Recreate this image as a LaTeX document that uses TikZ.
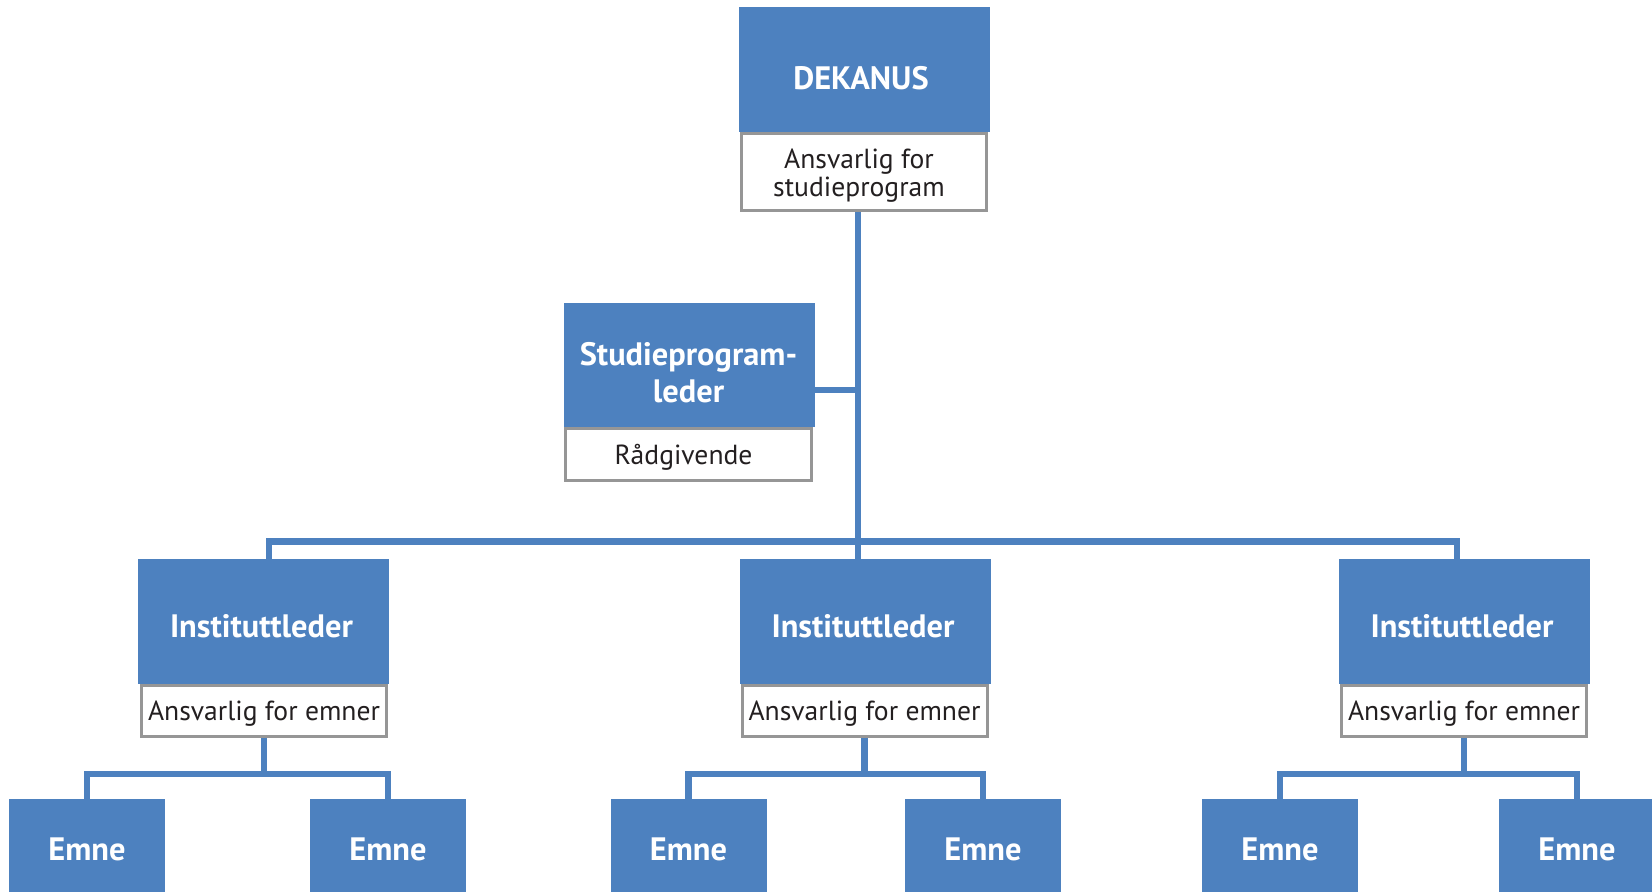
\documentclass[tikz,border=0pt]{standalone}
\usepackage{fontspec}
\setmainfont{PT Sans}
\usetikzlibrary{calc}
\definecolor{uiblue}{RGB}{77,129,191}
\definecolor{boxgray}{RGB}{150,150,150}
\definecolor{txtdark}{RGB}{35,31,32}
% #1 = lower by, #2 = shift left by, #3 = text
\newcommand\dropt[3]{\raisebox{-#1}[\height][\depth]{\kern-#2\begin{tabular}{@{}c@{}}#3\end{tabular}\kern#2}}
\begin{document}
\begin{tikzpicture}[x=0.5pt,y=-0.5pt,
  head/.style={fill=uiblue, draw=none, text=white, font=\fontsize{16.2}{18.5}\selectfont\bfseries,
    minimum width=125.5pt, minimum height=62.5pt, inner sep=0pt, align=center},
  sub/.style={fill=white, draw=boxgray, line width=1.5pt, text=txtdark,
    font=\fontsize{13.8}{14.3}\selectfont, minimum width=122.5pt, inner sep=0pt, align=center},
  leaf/.style={fill=uiblue, draw=none, text=white, font=\fontsize{16.2}{18.5}\selectfont\bfseries,
    minimum width=78pt, minimum height=50pt, inner sep=0pt},
  conn/.style={draw=uiblue, line width=3.4pt, line join=miter}]
\useasboundingbox (0,0) rectangle (1652,892);
\clip (0,0) rectangle (1652,892);

% top
\node[head] (dek) at (864,69.5) {\dropt{6.1pt}{1.5pt}{DEKANUS}};
\node[sub, minimum height=38.5pt] (dekw) at (864,172) {\dropt{2.3pt}{2.5pt}{Ansvarlig for\\studieprogram}};

% studieprogramleder
\node[head, minimum height=62pt] (stud) at (689.5,365) {\dropt{5.6pt}{0.5pt}{Studieprogram-\\leder}};
\node[sub, minimum width=123pt, minimum height=26pt] (studw) at (688.5,454.5) {\dropt{2pt}{2.5pt}{Rådgivende}};

% instituttledere
\node[head] (i1) at (263.5,621.5) {\dropt{4.1pt}{1pt}{Instituttleder}};
\node[head] (i2) at (865,621.5) {\dropt{4.1pt}{1pt}{Instituttleder}};
\node[head] (i3) at (1464,621.5) {\dropt{4.1pt}{1pt}{Instituttleder}};
\node[sub, minimum height=25.5pt] (i1w) at (264,711) {\dropt{2pt}{0pt}{Ansvarlig for emner}};
\node[sub, minimum height=25.5pt] (i2w) at (864.5,711) {\dropt{2pt}{0pt}{Ansvarlig for emner}};
\node[sub, minimum height=25.5pt] (i3w) at (1464,711) {\dropt{2pt}{0pt}{Ansvarlig for emner}};

% emner
\node[leaf] (e1) at (87,849) {Emne};
\node[leaf] (e2) at (388,849) {Emne};
\node[leaf] (e3) at (688.5,849) {Emne};
\node[leaf] (e4) at (983,849) {Emne};
\node[leaf] (e5) at (1280,849) {Emne};
\node[leaf] (e6) at (1577,849) {Emne};

% connectors
\coordinate (sp) at ([xshift=-3pt]dekw.south);
\draw[conn] (sp) -- (sp |- i2.north);
\draw[conn] ([yshift=-12.5pt]stud.east) -- ([yshift=-12.5pt]stud.east -| sp);
\draw[conn] ([xshift=2.75pt]i1.north) -- ++(0,-17) -| ([xshift=-3.5pt]i3.north);

\draw[conn] (i1w.south) -- ++(0,36);
\draw[conn] (e1.north) |- ([yshift=-18pt]i1w.south) -| (e2.north);
\draw[conn] (i2w.south) -- ++(0,36);
\draw[conn] (e3.north) |- ([yshift=-18pt]i2w.south) -| (e4.north);
\draw[conn] (i3w.south) -- ++(0,36);
\draw[conn] (e5.north) |- ([yshift=-18pt]i3w.south) -| (e6.north);
\end{tikzpicture}
\end{document}
